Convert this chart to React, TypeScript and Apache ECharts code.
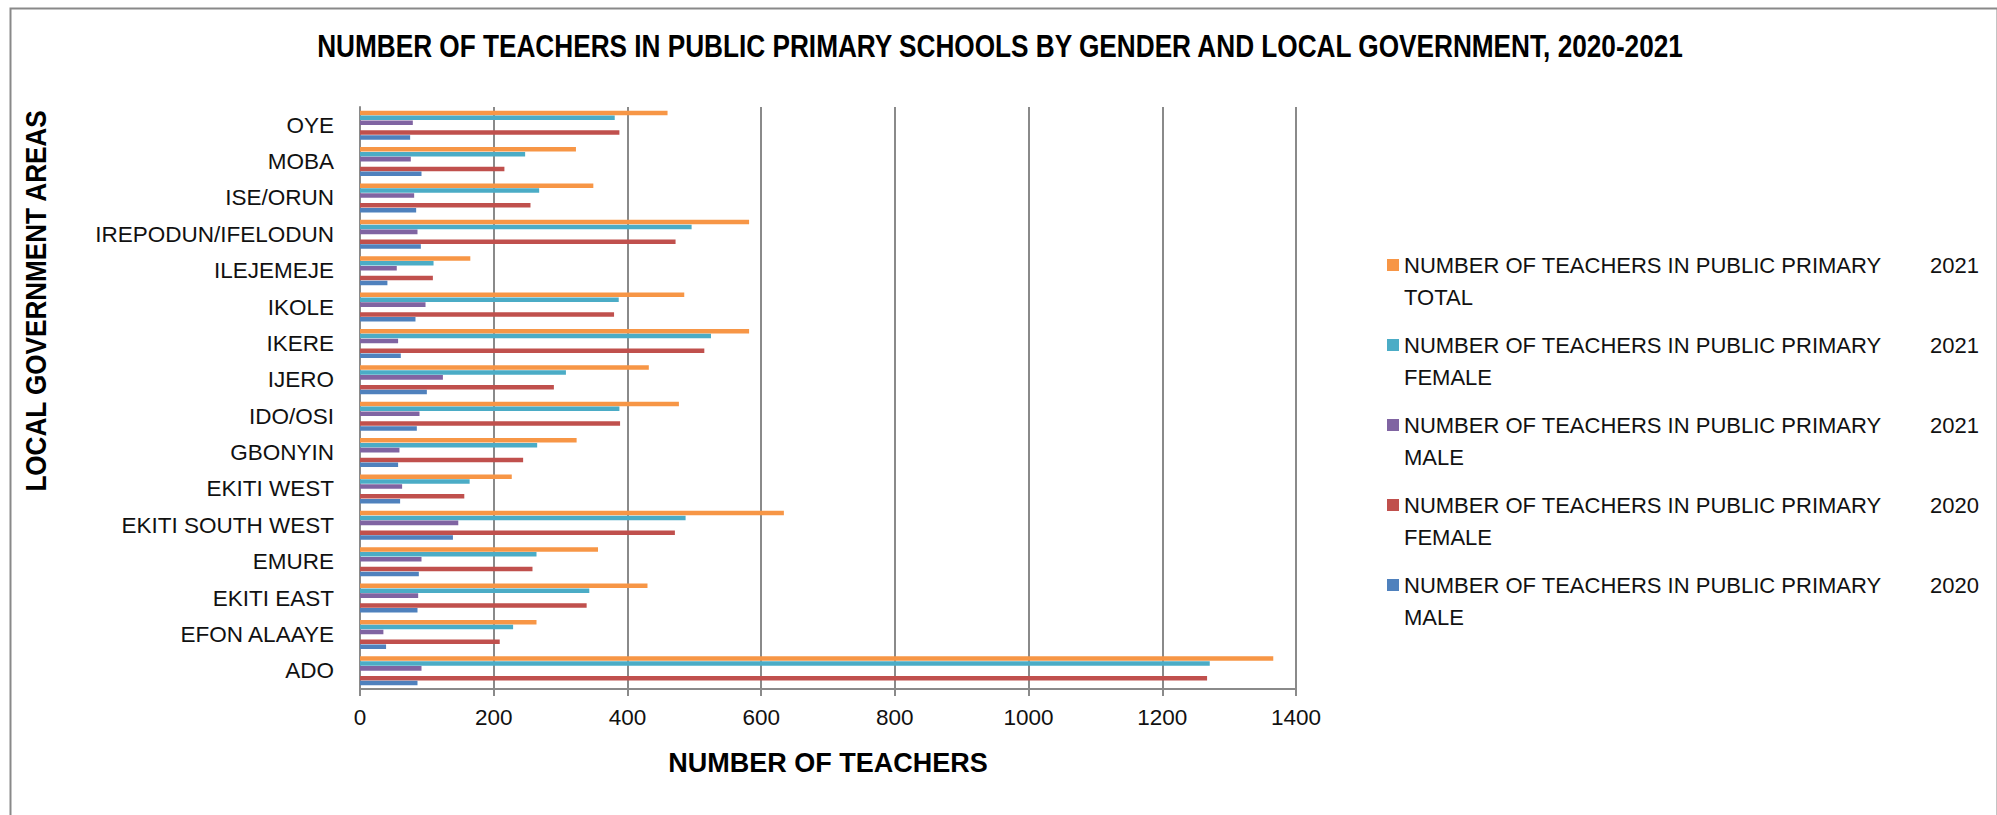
import React, { useEffect, useRef } from "react";
import * as echarts from "echarts";

const categories = [
  "ADO", "EFON ALAAYE", "EKITI EAST", "EMURE", "EKITI SOUTH WEST", "EKITI WEST",
  "GBONYIN", "IDO/OSI", "IJERO", "IKERE", "IKOLE", "ILEJEMEJE",
  "IREPODUN/IFELODUN", "ISE/ORUN", "MOBA", "OYE",
];

const total2021 = [1366, 264, 430, 356, 634, 227, 324, 477, 432, 582, 485, 165, 582, 349, 323, 460];
const female2021 = [1271, 229, 343, 264, 487, 164, 265, 388, 308, 525, 387, 110, 496, 268, 247, 381];
const male2021 = [92, 35, 87, 92, 147, 63, 59, 89, 124, 57, 98, 55, 86, 81, 76, 79];
const female2020 = [1267, 209, 339, 258, 471, 156, 244, 389, 290, 515, 380, 109, 472, 255, 216, 388];
const male2020 = [86, 39, 86, 88, 139, 60, 57, 85, 100, 61, 83, 41, 91, 84, 92, 75];

const xTicks = [0, 1400, 200]; // min, max, interval

const legendPrefix = "NUMBER OF TEACHERS IN PUBLIC PRIMARY";
const seriesYears = ["2021", "2021", "2021", "2020", "2020"];
const seriesGroups = ["TOTAL", "FEMALE", "MALE", "FEMALE", "MALE"];
const seriesColors = ["#F79646", "#4BACC6", "#8064A2", "#C0504D", "#4F81BD"];
const seriesData = [total2021, female2021, male2021, female2020, male2020];

const TITLE = "NUMBER OF TEACHERS IN PUBLIC PRIMARY SCHOOLS BY GENDER AND LOCAL GOVERNMENT, 2020-2021";
const LABEL_FONT = "'Liberation Sans', Arial, sans-serif";
const BOLD_FONT = "'Liberation Sans Narrow', 'Arial Narrow', 'Liberation Sans', sans-serif";

export default function App() {
  const ref = useRef<HTMLDivElement>(null);

  useEffect(() => {
    if (!ref.current) return;
    const chart = echarts.init(ref.current, undefined, { renderer: "svg" });

    const names = seriesYears.map((y, i) => `${legendPrefix} ${y} ${seriesGroups[i]}`);

    const barSeries: any[] = [];
    for (let i = 0; i < 5; i++) {
      barSeries.push({
        name: names[i],
        type: "bar",
        data: seriesData[i],
        itemStyle: { color: seriesColors[i] },
        barCategoryGap: "20%",
        barGap: "8%",
      });
      if (i === 2) {
        barSeries.push({
          name: "gap",
          type: "bar",
          data: categories.map(() => null),
          itemStyle: { color: "transparent" },
          barCategoryGap: "20%",
          barGap: "8%",
        });
      }
    }

    chart.setOption({
      animation: false,
      backgroundColor: "#ffffff",
      legend: {
        orient: "vertical",
        left: 1382,
        top: 212,
        icon: "rect",
        itemWidth: 12,
        itemHeight: 12,
        itemGap: -16,
        data: names,
        formatter: (name: string) => {
          const i = names.indexOf(name);
          return `{a|${legendPrefix}}{b|${seriesYears[i]}}\n{a|${seriesGroups[i]}}`;
        },
        textStyle: {
          fontFamily: LABEL_FONT,
          fontSize: 22,
          color: "#111",
          lineHeight: 32,
          padding: [32, 0, 0, 0],
          rich: {
            a: { width: 526, fontFamily: LABEL_FONT, fontSize: 22, color: "#111", lineHeight: 32 },
            b: { fontFamily: LABEL_FONT, fontSize: 22, color: "#111", lineHeight: 32 },
          },
        },
      },
      grid: {
        left: 360,
        right: 701,
        top: 107,
        bottom: 126,
        containLabel: false,
      },
      xAxis: {
        type: "value",
        min: xTicks[0],
        max: xTicks[1],
        interval: xTicks[2],
        name: "NUMBER OF TEACHERS",
        nameLocation: "middle",
        nameGap: 60,
        nameTextStyle: {
          fontFamily: BOLD_FONT,
          fontWeight: "bold",
          fontSize: 27,
          color: "#000",
        },
        axisLine: { show: true, lineStyle: { color: "#8a8a8a", width: 2 } },
        axisTick: { show: true, length: 7, lineStyle: { color: "#8a8a8a", width: 2 } },
        axisLabel: {
          fontFamily: LABEL_FONT,
          fontSize: 22.5,
          color: "#111",
          margin: 17,
          formatter: (v: number) => String(v),
        },
        splitLine: { show: true, lineStyle: { color: "#8a8a8a", width: 2 } },
      },
      yAxis: {
        type: "category",
        data: categories,
        axisLine: { show: true, lineStyle: { color: "#8a8a8a", width: 2 } },
        axisTick: { show: false },
        axisLabel: { fontFamily: LABEL_FONT, fontSize: 22.5, color: "#111", margin: 26 },
        splitLine: { show: false },
      },
      graphic: [
        {
          type: "rect",
          left: 8,
          top: 6,
          shape: { x: 0, y: 0, width: 1987, height: 830 },
          style: { fill: "none", stroke: "#898989", lineWidth: 2 },
          silent: true,
        },
        {
          type: "text",
          x: 1000,
          y: 46,
          scaleX: 0.845,
          style: {
            text: TITLE,
            fontFamily: BOLD_FONT,
            fontWeight: "bold",
            fontSize: 31,
            fill: "#000",
            textAlign: "center",
            textVerticalAlign: "middle",
          },
        },
        {
          type: "text",
          x: 36,
          y: 301,
          rotation: Math.PI / 2,
          scaleX: 0.9,
          style: {
            text: "LOCAL GOVERNMENT AREAS",
            fontFamily: BOLD_FONT,
            fontWeight: "bold",
            fontSize: 29,
            fill: "#000",
            textAlign: "center",
            textVerticalAlign: "middle",
          },
        },
      ],
      series: barSeries,
    });

    return () => chart.dispose();
  }, []);

  return (
    <div
      ref={ref}
      style={{ position: "fixed", left: 0, top: 0, width: 1997, height: 815 }}
    />
  );
}
